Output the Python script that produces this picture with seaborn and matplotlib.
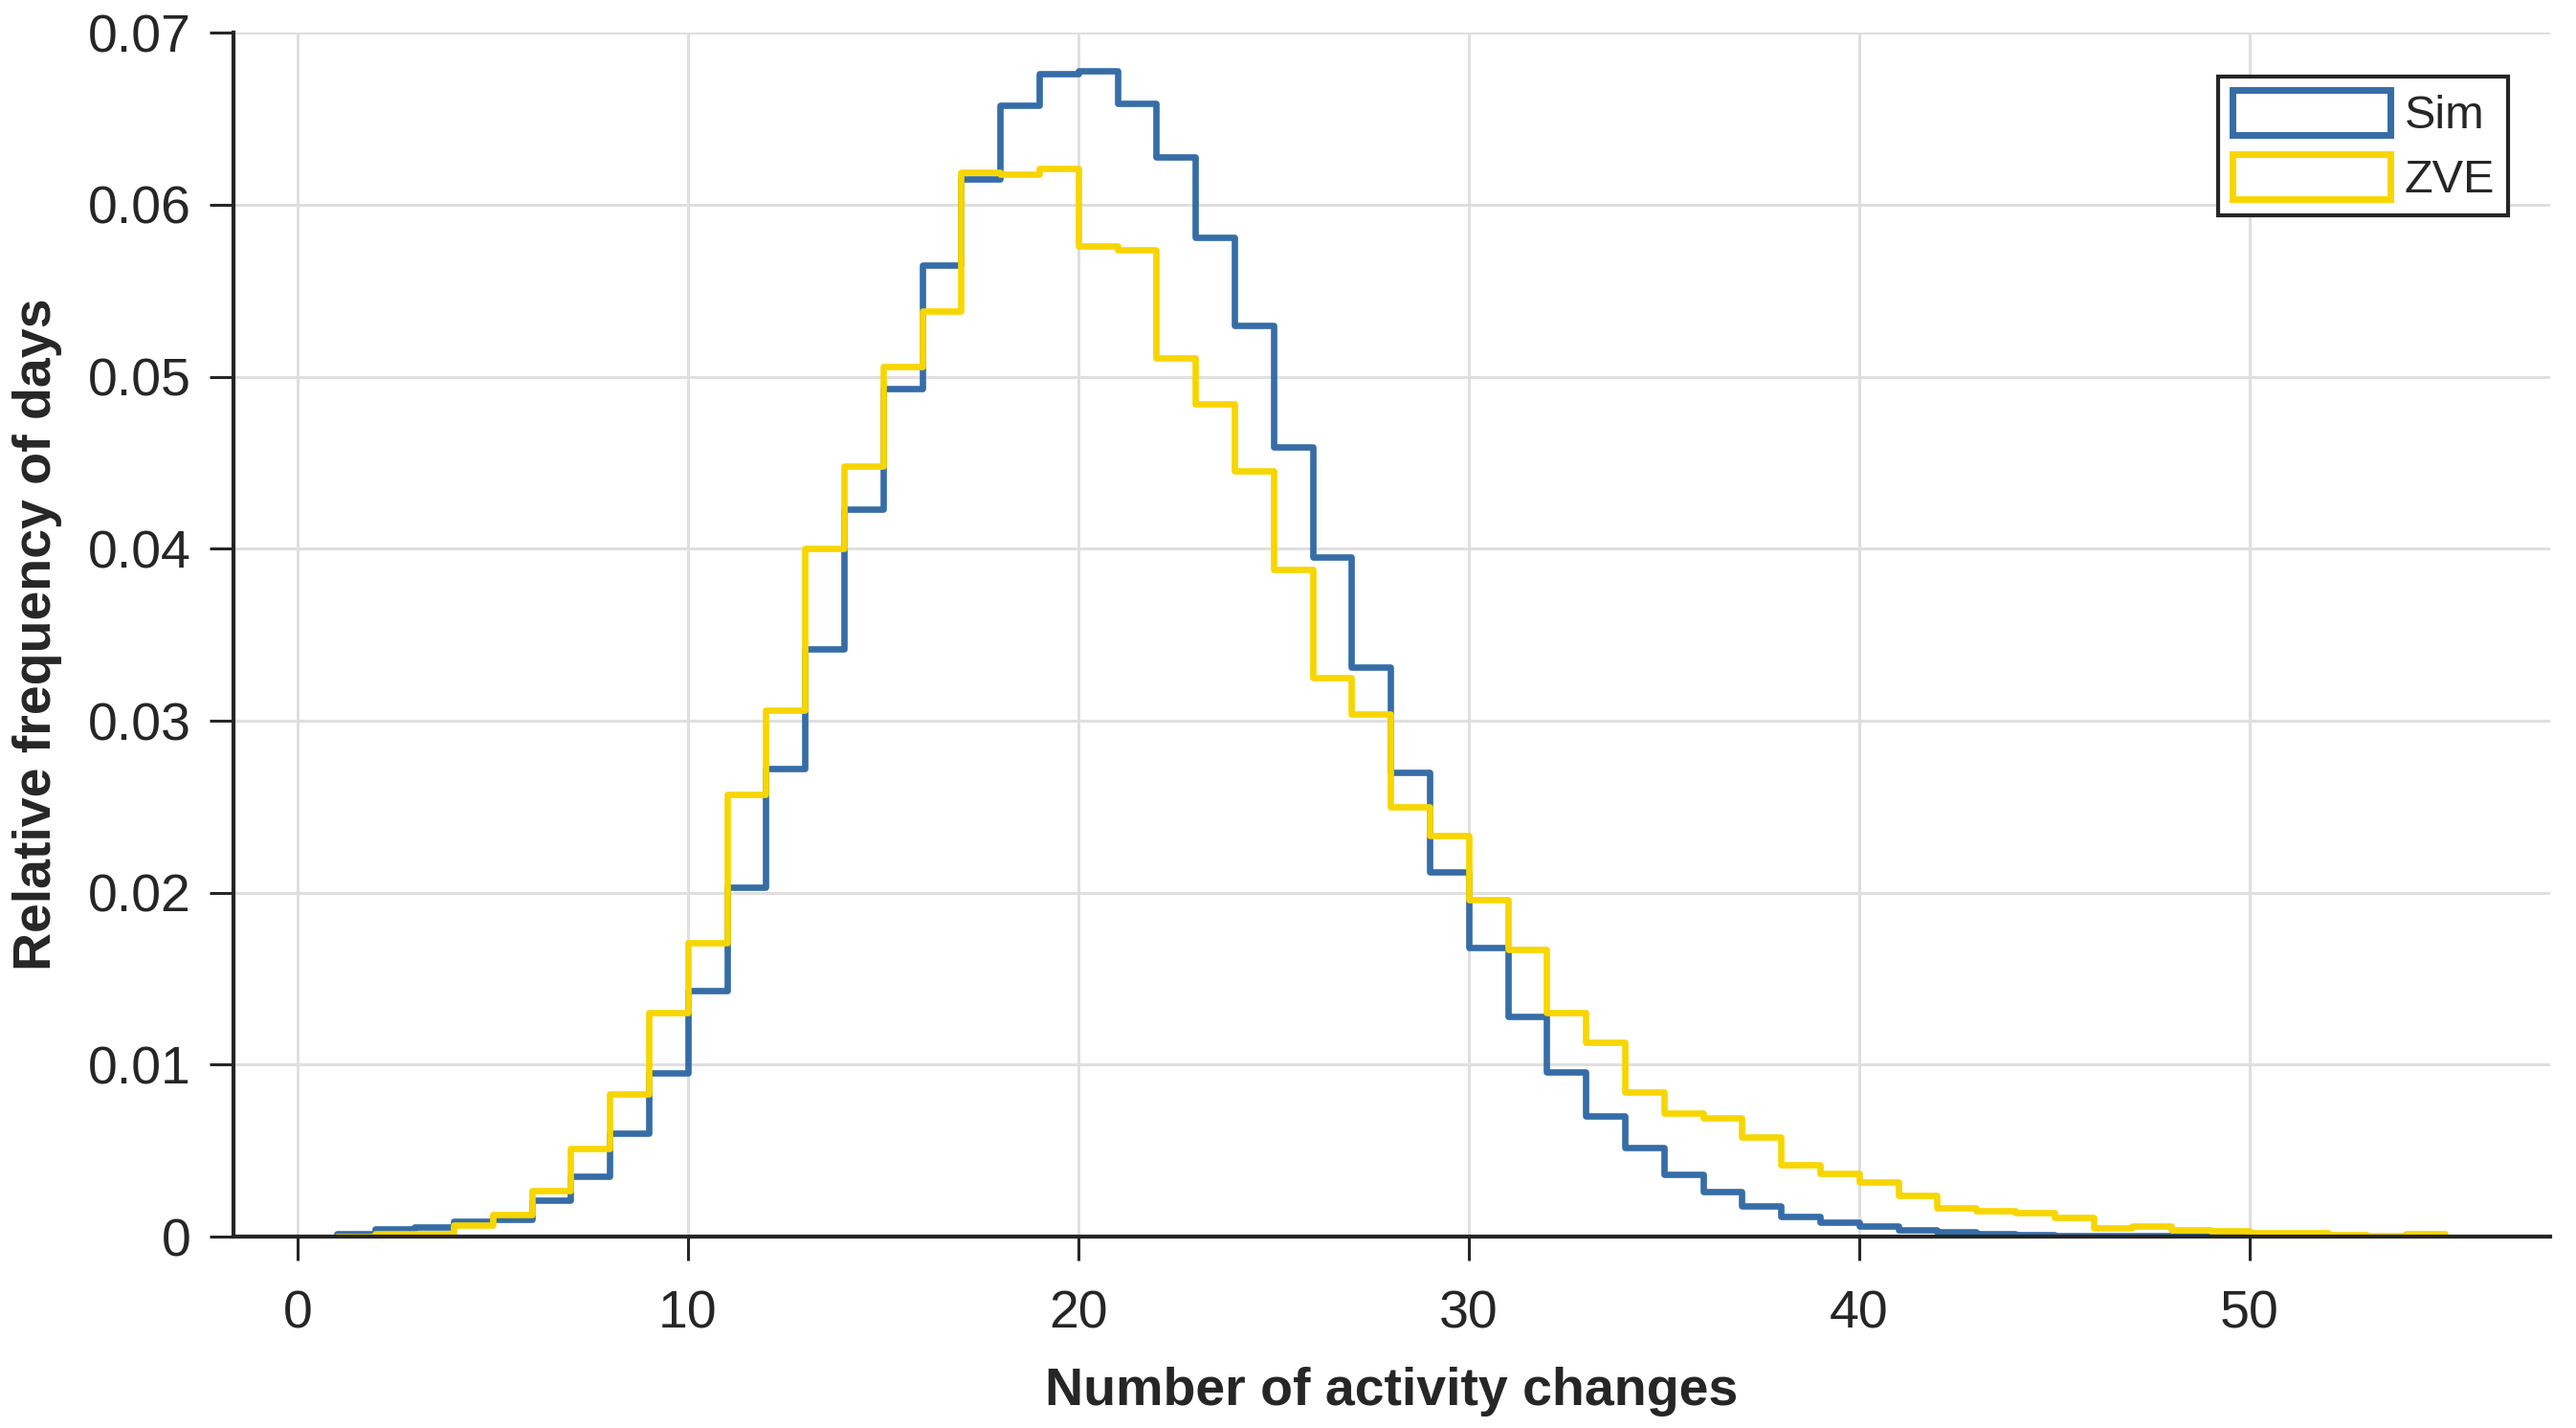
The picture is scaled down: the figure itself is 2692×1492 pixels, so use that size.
import numpy as np
import pandas as pd
import seaborn as sns
import matplotlib.pyplot as plt
from matplotlib.patches import Patch
from matplotlib.ticker import FuncFormatter

# one bin per number of activity changes, from 1 to 55
bin_start = 1
bin_stop = 55
bin_left = np.arange(bin_start, bin_stop)

sim_freq = [
    0.00018, 0.00046, 0.00057, 0.00089, 0.00098, 0.0021, 0.0035, 0.0060, 0.0095, 0.0143,
    0.0203, 0.0272, 0.0342, 0.0423, 0.0493, 0.0565, 0.0615, 0.0658, 0.0676, 0.0678,
    0.0659, 0.0628, 0.0581, 0.0530, 0.0459, 0.0395, 0.0331, 0.0270, 0.0212, 0.0168,
    0.0128, 0.0096, 0.0070, 0.0052, 0.0036, 0.0026, 0.0018, 0.0012, 0.00085, 0.0006,
    0.0004, 0.0003, 0.00018, 0.00012, 0.00008, 0.00006, 0.00005, 0.00004, 0.00004, 0.00003,
    0.00003, 0.00002, 0.00002, 0.00002,
]

zve_freq = [
    0.00003, 0.00018, 0.00018, 0.00065, 0.0013, 0.0027, 0.0051, 0.0083, 0.0130, 0.0171,
    0.0257, 0.0306, 0.0400, 0.0448, 0.0506, 0.0538, 0.0619, 0.0618, 0.0621, 0.0576,
    0.0574, 0.0511, 0.0484, 0.0445, 0.0388, 0.0325, 0.0304, 0.0250, 0.0233, 0.0196,
    0.0167, 0.0130, 0.0113, 0.0084, 0.0072, 0.0069, 0.0058, 0.0042, 0.0037, 0.0032,
    0.0024, 0.0017, 0.0015, 0.0014, 0.0011, 0.0005, 0.0006, 0.0004, 0.00033, 0.00022,
    0.00022, 0.00011, 0.00004, 0.00018,
]

series_names = ["Sim", "ZVE"]
series_colors = ["#366DA7", "#F7D600"]

df = pd.DataFrame({
    "changes": np.concatenate([bin_left, bin_left]) + 0.5,
    "freq": sim_freq + zve_freq,
    "source": ["Sim"] * len(sim_freq) + ["ZVE"] * len(zve_freq),
})

sns.set_theme(style="whitegrid")
plt.rcParams["font.family"] = ["Liberation Sans", "DejaVu Sans"]

fig = plt.figure(figsize=(26.92, 14.92), dpi=100)
ax = fig.add_axes([0.0906, 0.134, 0.8994, 0.843])

for name, color in zip(series_names, series_colors):
    sns.histplot(
        data=df[df["source"] == name],
        x="changes",
        weights="freq",
        binwidth=1,
        binrange=(bin_start, bin_stop),
        element="step",
        fill=False,
        color=color,
        linewidth=4.8,
        ax=ax,
    )

ax.set_xlim(-1.64, 57.7)
ax.set_ylim(0, 0.07)
ax.set_xticks(np.arange(0, 51, 10))
ax.set_yticks(np.arange(0, 0.0701, 0.01))
ax.yaxis.set_major_formatter(FuncFormatter(lambda v, p: f"{v:g}" if abs(v) > 1e-9 else "0"))

ax.grid(True, color="#DFDFDF", linewidth=2.2)
ax.set_axisbelow(True)
for side in ["top", "right"]:
    ax.spines[side].set_visible(False)
for side in ["left", "bottom"]:
    ax.spines[side].set_color("#262626")
    ax.spines[side].set_linewidth(3)

ax.tick_params(axis="both", direction="out", length=18, width=2.2,
               color="#262626", labelsize=40, labelcolor="#262626")
ax.tick_params(axis="x", pad=22, bottom=True)
ax.tick_params(axis="y", pad=14, left=True)

ax.set_xlabel("Number of activity changes", fontsize=40, fontweight="bold", color="#262626")
ax.set_ylabel("Relative frequency of days", fontsize=40, fontweight="bold", color="#262626")
ax.xaxis.set_label_coords(0.5, -0.108)
ax.yaxis.set_label_coords(-0.074, 0.5)

handles = [Patch(facecolor="white", edgecolor=c, linewidth=5) for c in series_colors]
leg = ax.legend(
    handles, series_names,
    loc="upper right", bbox_to_anchor=(0.982, 0.964), borderaxespad=0,
    fontsize=35, frameon=True, fancybox=False,
    handlelength=3.4, handleheight=1.1, handletextpad=0.3,
    labelspacing=0.35, borderpad=0.3,
)
leg.get_frame().set_edgecolor("#262626")
leg.get_frame().set_linewidth(3)
leg.get_frame().set_alpha(1)

fig.savefig("out.png", dpi=100)
